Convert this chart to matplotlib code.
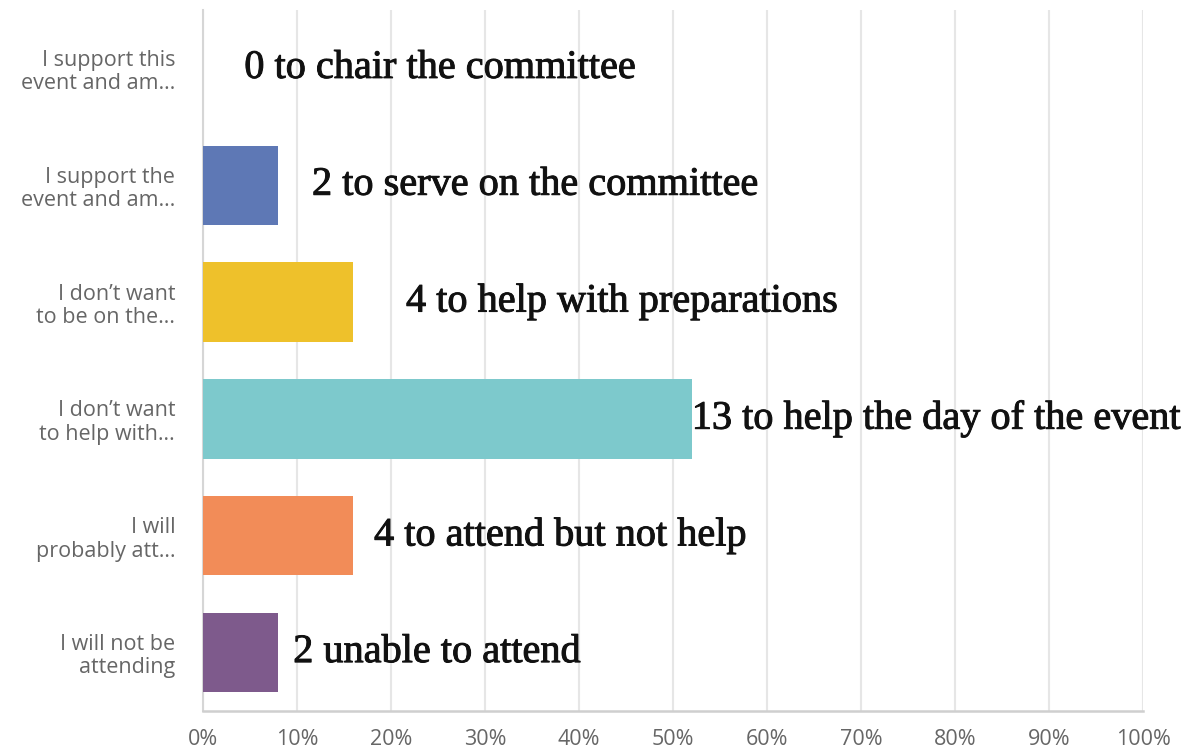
import matplotlib
matplotlib.use("Agg")
import matplotlib.pyplot as plt
import matplotlib.patheffects as pe
from matplotlib.ticker import PercentFormatter

# survey answers (truncated as shown on the axis)
categories = [
    "I support this\nevent and am…",
    "I support the\nevent and am…",
    "I don’t want\nto be on the…",
    "I don’t want\nto help with…",
    "I will\nprobably att…",
    "I will not be\nattending",
]
percent = [0, 8, 16, 52, 16, 8]
notes = [
    "0 to chair the committee",
    "2 to serve on the committee",
    "4 to help with preparations",
    "13 to help the day of the event",
    "4 to attend but not help",
    "2 unable to attend",
]
colors = ["#5e78b5", "#5e78b5", "#eec12b", "#7dc9cc", "#f28c58", "#7e5a8c"]
xticks = list(range(0, 101, 10))

# where the hand-placed notes start (in % along the axis)
note_x = [4.4, 11.6, 21.6, 52.0, 18.2, 9.6]

fig = plt.figure(figsize=(11.96, 7.52), dpi=100)
ax = fig.add_axes([0.1697, 0.0545, 0.7860, 0.9322])

ypos = list(range(len(categories)))
ax.barh(ypos, percent, height=0.68, color=colors, zorder=3)

# notes look like a medium-weight serif, so thicken regular a touch
thicker = [pe.withStroke(linewidth=0.7, foreground="#111111")]
for y, x, txt in zip(ypos, note_x, notes):
    ax.text(x, y, txt, ha="left", va="center", fontsize=29,
            family="Liberation Serif", color="#111111", zorder=4,
            path_effects=thicker)

ax.set_xlim(0, 100)
ax.set_ylim(len(categories) - 0.5, -0.5)
ax.set_xticks(xticks)
ax.xaxis.set_major_formatter(PercentFormatter(decimals=0))
ax.set_yticks(ypos)
ax.set_yticklabels(categories, linespacing=1.15)

ax.grid(axis="x", color="#e6e6e6", linewidth=1.5, zorder=0)
ax.grid(axis="y", visible=False)
for side in ["top", "right"]:
    ax.spines[side].set_visible(False)
ax.spines["left"].set_color("#d6d6d6")
ax.spines["left"].set_linewidth(1.5)
ax.spines["bottom"].set_color("#cfcfcf")
ax.spines["bottom"].set_linewidth(1.8)

ax.tick_params(axis="both", length=0, labelcolor="#666666", labelsize=15.5)
ax.tick_params(axis="x", pad=13)
ax.tick_params(axis="y", pad=20)
for lbl in ax.get_xticklabels() + ax.get_yticklabels():
    lbl.set_family("Open Sans")

fig.savefig("out.png", dpi=100, facecolor="white")
